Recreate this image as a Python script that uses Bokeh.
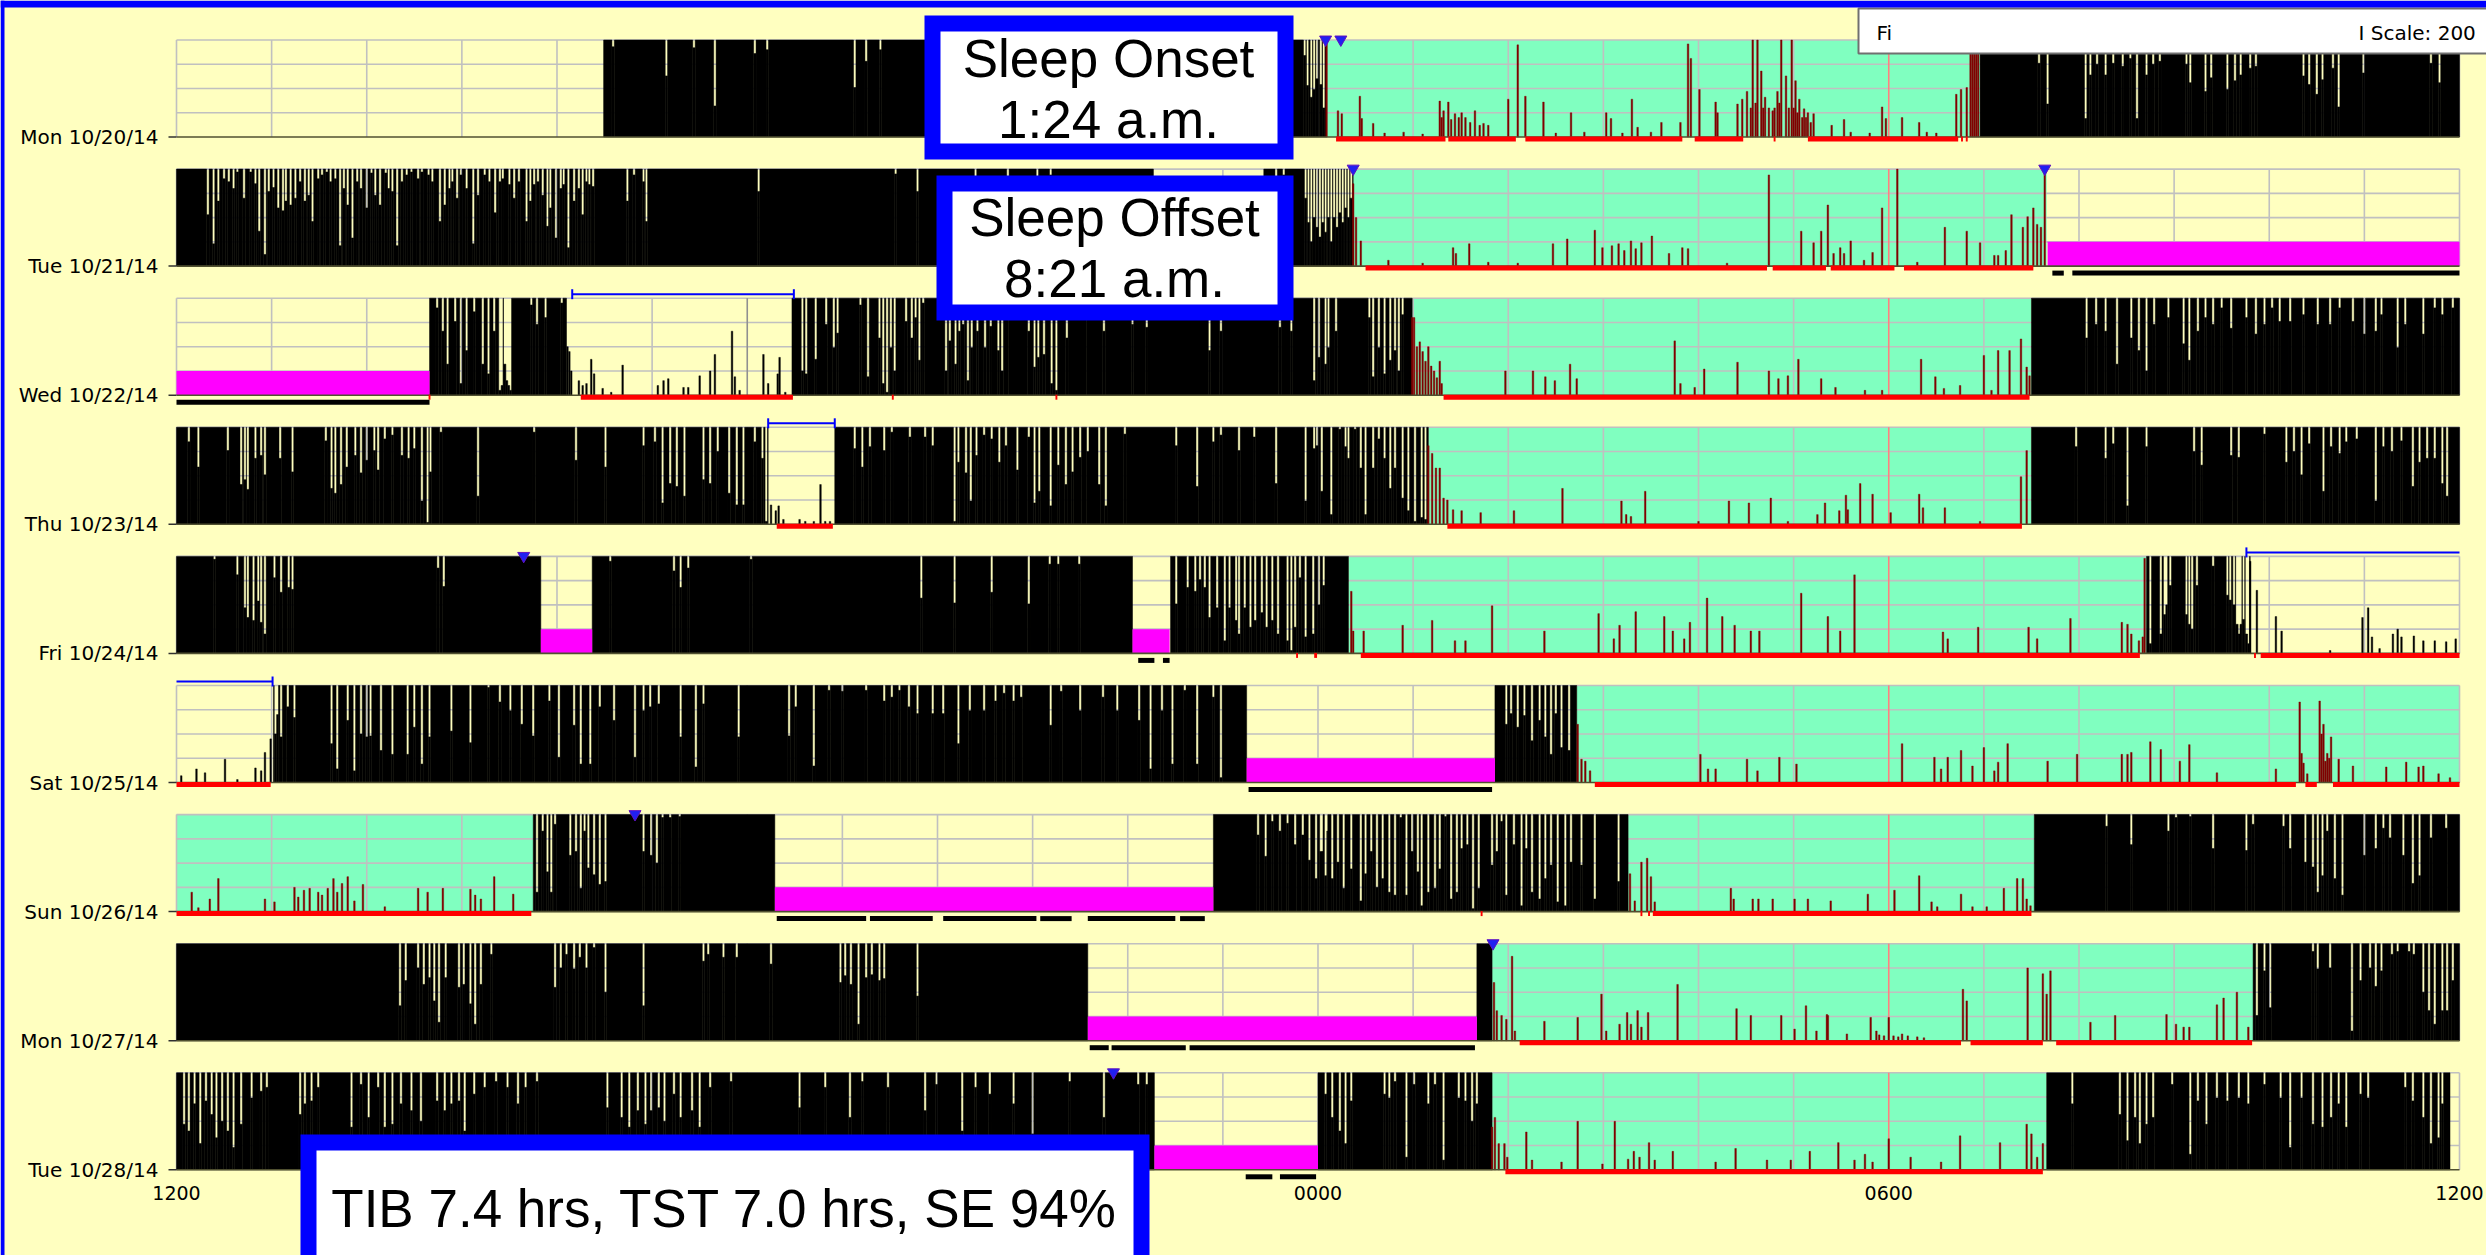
from bokeh.plotting import figure
from bokeh.models import Range1d
from bokeh.core.properties import value
from bokeh.embed import file_html
from bokeh.resources import INLINE

# ---------------- data (hours after 12:00 noon, fractions of the 200-count scale) -------------
ROW_LABELS = ["Mon 10/20/14", "Tue 10/21/14", "Wed 10/22/14", "Thu 10/23/14", "Fri 10/24/14",
              "Sat 10/25/14", "Sun 10/26/14", "Mon 10/27/14", "Tue 10/28/14"]
TIME_TICKS = [0, 12, 18, 24]
TIME_LABELS = ["1200", "0000", "0600", "1200"]

# wake activity blocks (saturated black) per row
ACTIVE = [
    [(4.49, 12.09), (18.96, 24.0)],
    [(0.0, 10.27), (11.43, 12.37)],
    [(2.66, 4.10), (6.47, 12.99), (19.50, 24.0)],
    [(0.0, 6.22), (6.92, 13.16), (19.50, 24.0)],
    [(0.0, 3.83), (4.37, 10.05), (10.45, 12.32), (20.71, 21.80)],
    [(1.02, 11.25), (13.86, 14.72)],
    [(3.75, 6.29), (10.90, 15.26), (19.53, 24.0)],
    [(0.0, 9.58), (13.67, 13.83), (21.83, 24.0)],
    [(0.0, 10.28), (12.0, 13.83), (19.66, 23.9)],
]
# rest intervals (mint)
REST = [
    [(12.09, 18.96)], [(12.37, 19.66)], [(12.99, 19.50)], [(13.16, 19.50)], [(12.32, 20.71)],
    [(14.72, 24.0)], [(0.0, 3.75), (15.26, 19.53)], [(13.83, 21.83)], [(13.83, 19.66)],
]
# excluded / off-wrist intervals (magenta)
OFFWRIST = [
    [], [(19.67, 24.0)], [(0.0, 2.66)], [], [(3.83, 4.37), (10.05, 10.44)],
    [(11.25, 13.86)], [(6.29, 10.90)], [(9.58, 13.67)], [(10.28, 12.0)],
]
# scored sleep (red line under the row)
SLEEP = [
    [(12.19, 13.34), (13.37, 14.08), (14.18, 15.83), (15.96, 16.47), (16.79, 16.81),
     (17.15, 18.73), (18.76, 18.78), (18.81, 18.83)],
    [(12.50, 16.72), (16.78, 17.34), (17.39, 18.06), (18.16, 19.52)],
    [(2.65, 2.67), (4.25, 6.48), (7.52, 7.54), (9.24, 9.26), (13.32, 19.48)],
    [(6.31, 6.90), (13.36, 19.40)],
    [(11.77, 11.79), (11.96, 11.99), (12.45, 20.64), (21.84, 21.86), (21.91, 24.0)],
    [(0.0, 0.99), (14.91, 22.28), (22.38, 22.50), (22.67, 24.0)],
    [(0.0, 3.73), (13.71, 13.73), (15.39, 15.41), (15.47, 15.49), (15.52, 19.50)],
    [(14.12, 18.76), (18.86, 19.62), (19.76, 21.82)],
    [(13.97, 19.62)],
]
# off-wrist marks (black line under the row)
UNDERLINE = [
    [], [(19.72, 19.84), (19.93, 24.0)], [(0.0, 2.66)], [], [(10.11, 10.28), (10.37, 10.44)],
    [(11.27, 13.83)],
    [(6.31, 7.25), (7.29, 7.95), (8.06, 9.04), (9.08, 9.41), (9.58, 10.50), (10.55, 10.81)],
    [(9.60, 9.80), (9.83, 10.61), (10.65, 13.65)],
    [(11.24, 11.52), (11.60, 11.98)],
]
# blue interval brackets above the row
BRACKETS = [[], [], [(4.16, 6.49)], [(6.22, 6.92)], [(21.76, 24.0)], [(0.0, 1.01)], [], [], []]
# event markers (blue triangles)
MARKERS = [[12.08, 12.24], [12.37, 19.64], [], [], [3.65], [], [4.82], [13.84], [9.85]]

# dips of the activity curve inside the black blocks: (hour, depth from top)
DIPS_0 = [(4.59, .07), (5.15, .37), (5.44, .08), (5.66, .68), (6.08, .14), (6.21, .10), (7.13, .49),
          (7.25, .22), (7.40, .10), (11.86, .16), (11.89, .47), (11.93, .59), (11.96, .51), (11.99, .40),
          (12.03, .46), (12.06, .70), (19.58, .24), (19.67, .66), (20.07, .81), (20.12, .36), (20.19, .25),
          (20.28, .36), (20.36, .24), (20.46, .27), (20.54, .19), (20.61, .81), (20.71, .36), (20.78, .25),
          (20.85, .22), (21.13, .25), (21.17, .44), (21.33, .53), (21.39, .39), (21.56, .51), (21.64, .42),
          (21.70, .36), (21.80, .29), (21.86, .27), (22.36, .37), (22.42, .46), (22.50, .56), (22.56, .41),
          (22.67, .29), (22.73, .69), (22.99, .34), (23.70, .24), (23.79, .44)]
DIPS_1 = [(0.33, .47), (0.39, .77), (0.44, .33), (0.50, .10), (0.55, .13), (0.60, .20), (0.64, .03),
          (0.71, .30), (0.78, .03), (0.83, .15), (0.87, .64), (0.93, .88), (0.97, .23), (1.02, .19),
          (1.07, .40), (1.12, .43), (1.15, .33), (1.20, .37), (1.25, .30), (1.30, .13), (1.35, .33),
          (1.39, .27), (1.43, .54), (1.49, .10), (1.53, .06), (1.58, .03), (1.62, .13), (1.67, .10),
          (1.72, .79), (1.76, .20), (1.80, .37), (1.85, .71), (1.90, .13), (1.94, .20), (2.00, .40),
          (2.05, .04), (2.09, .27), (2.14, .37), (2.20, .04), (2.23, .20), (2.27, .23), (2.32, .79),
          (2.37, .13), (2.42, .06), (2.47, .03), (2.54, .10), (2.58, .03), (2.65, .06), (2.69, .13),
          (2.77, .54), (2.82, .37), (2.87, .20), (2.90, .13), (2.95, .30), (2.99, .06), (3.05, .20),
          (3.12, .77), (3.17, .27), (3.24, .06), (3.29, .13), (3.35, .45), (3.40, .13), (3.43, .10),
          (3.50, .16), (3.55, .30), (3.60, .13), (3.68, .54), (3.72, .33), (3.76, .16), (3.80, .13),
          (3.85, .27), (3.90, .59), (3.93, .40), (3.99, .71), (4.04, .20), (4.07, .16), (4.12, .81),
          (4.18, .33), (4.23, .20), (4.27, .47), (4.31, .13), (4.34, .16), (4.38, .18), (4.74, .33),
          (4.81, .06), (4.91, .13), (4.94, .54), (6.12, .23), (7.56, .05), (7.79, .23), (8.40, .08),
          (8.74, .08), (9.05, .08), (9.19, .06), (11.56, .33), (11.64, .06), (11.87, .30), (11.90, .55),
          (11.93, .75), (11.96, .50), (11.99, .60), (12.02, .70), (12.05, .55), (12.08, .65), (12.11, .50),
          (12.14, .75), (12.17, .50), (12.20, .60), (12.23, .45), (12.26, .55), (12.29, .40), (12.32, .50),
          (12.35, .30)]
DIPS_2 = [(2.74, .10), (2.80, .34), (2.85, .68), (2.93, .24), (2.99, .88), (3.05, .54), (3.13, .14),
          (3.22, .68), (3.28, .78), (3.34, .34), (3.40, .95), (3.42, .90), (3.45, .68), (3.47, .85),
          (3.49, .90), (3.51, .95), (3.73, .07), (3.79, .27), (3.88, .20), (4.05, .05),
          (6.58, .75), (6.62, .78), (6.72, .63), (6.83, .27), (6.91, .51), (6.95, .36), (7.19, .07),
          (7.27, .81), (7.39, .41), (7.43, .88), (7.47, .97), (7.51, .51), (7.55, .75), (7.67, .24),
          (7.73, .41), (7.77, .20), (7.81, .64), (7.85, .05), (8.09, .75), (8.13, .44), (8.19, .68),
          (8.23, .34), (8.27, .27), (8.32, .85), (8.36, .51), (8.42, .34), (8.50, .51), (8.56, .29),
          (8.64, .54), (8.68, .75), (8.76, .14), (8.96, .34), (9.02, .71), (9.06, .61), (9.12, .58),
          (9.20, .88), (9.25, .95), (9.36, .41), (9.58, .17), (9.75, .34), (10.05, .27), (10.20, .30),
          (10.86, .54), (10.98, .34), (11.60, .30), (11.72, .34), (11.96, .85), (12.01, .61), (12.08, .68),
          (12.11, .51), (12.19, .34), (12.54, .20), (12.58, .81), (12.64, .51), (12.70, .78), (12.76, .64),
          (12.81, .54), (12.85, .75), (12.89, .17),
          (20.08, .41), (20.18, .27), (20.28, .34), (20.40, .68), (20.55, .41), (20.63, .54), (20.71, .75),
          (20.79, .27), (20.94, .20), (21.10, .47), (21.16, .64), (21.25, .34), (21.33, .20), (21.41, .27),
          (21.50, .10), (21.60, .31), (21.76, .20), (21.86, .37), (21.95, .27), (22.03, .10), (22.11, .24),
          (22.22, .24), (22.36, .17), (22.51, .27), (22.64, .27), (22.74, .10), (22.88, .24), (23.00, .37),
          (23.12, .34), (23.18, .17), (23.35, .51), (23.43, .27), (23.62, .37), (23.74, .10), (23.82, .17),
          (23.93, .10)]
DIPS_3 = [(0.13, .15), (0.23, .41), (0.54, .24), (0.68, .59), (0.72, .54), (0.75, .64), (0.83, .32),
          (0.89, .29), (0.93, .49), (1.09, .32), (1.22, .46), (1.57, .14), (1.63, .63), (1.67, .68),
          (1.73, .59), (1.79, .41), (1.88, .29), (1.94, .47), (2.00, .34), (2.08, .24), (2.12, .44),
          (2.19, .12), (2.27, .08), (2.37, .29), (2.44, .32), (2.50, .22), (2.58, .76), (2.64, .98),
          (2.67, .46), (2.78, .05), (3.17, .71), (3.76, .05), (4.20, .34), (4.51, .41), (4.91, .19),
          (5.03, .15), (5.11, .78), (5.19, .58), (5.26, .61), (5.34, .71), (5.54, .54), (5.61, .58),
          (5.69, .25), (5.81, .68), (5.89, .80), (5.96, .80), (6.08, .15), (6.16, .32), (6.20, .97),
          (7.13, .22), (7.21, .41), (7.29, .20), (7.44, .24), (7.52, .05), (7.71, .10), (7.87, .10),
          (7.95, .19), (8.18, .97), (8.22, .36), (8.30, .47), (8.35, .76), (8.41, .29), (8.49, .08),
          (8.57, .12), (8.65, .36), (8.72, .19), (8.84, .44), (8.96, .10), (9.02, .78), (9.07, .66),
          (9.19, .81), (9.27, .39), (9.35, .59), (9.42, .46), (9.50, .31), (9.58, .25), (9.70, .59),
          (9.77, .81), (9.97, .07), (10.51, .19), (10.73, .61), (10.90, .15), (10.98, .08), (11.17, .24),
          (11.33, .10), (11.56, .58), (11.87, .76), (11.96, .22), (11.99, .19), (12.04, .66), (12.14, .90),
          (12.23, .02), (12.29, .20), (12.32, .32), (12.39, .02), (12.45, .42), (12.50, .90), (12.58, .42),
          (12.64, .12), (12.70, .32), (12.76, .63), (12.81, .42), (12.89, .73), (12.95, .86), (13.02, .97),
          (13.09, .93), (13.13, .95),
          (19.97, .20), (20.28, .32), (20.36, .17), (20.51, .81), (20.71, .20), (21.21, .25), (21.29, .39),
          (21.60, .29), (21.68, .31), (21.95, .07), (22.18, .36), (22.26, .25), (22.34, .49), (22.42, .17),
          (22.57, .66), (22.65, .20), (22.74, .27), (22.81, .15), (22.92, .12), (23.12, .76), (23.20, .20),
          (23.29, .25), (23.39, .14), (23.51, .61), (23.58, .36), (23.66, .32), (23.74, .32), (23.82, .58),
          (23.87, .71)]
DIPS_4 = [(0.40, .03), (0.64, .19), (0.72, .53), (0.75, .63), (0.81, .66), (0.86, .46), (0.89, .68),
          (0.93, .80), (1.03, .22), (1.10, .37), (1.18, .32), (1.22, .34), (2.75, .12), (2.81, .31),
          (4.56, .05), (5.23, .15), (5.30, .32), (5.38, .12), (6.04, .03), (7.83, .43), (8.18, .48),
          (8.57, .37), (8.96, .49), (9.18, .08), (9.27, .08), (9.49, .08),
          (10.51, .49), (10.63, .32), (10.71, .36), (10.76, .24), (10.81, .32), (10.86, .63), (10.94, .53),
          (11.02, .87), (11.07, .53), (11.14, .66), (11.17, .80), (11.23, .53), (11.29, .73), (11.34, .66),
          (11.41, .58), (11.46, .73), (11.52, .66), (11.58, .80), (11.68, .87), (11.72, .97), (11.76, .73),
          (11.81, .22), (11.87, .83), (11.95, .80), (12.01, .50), (12.06, .30),
          (20.75, .90), (20.86, .80), (20.90, .60), (20.92, .50), (20.96, .30), (21.13, .60), (21.16, .70),
          (21.19, .75), (21.24, .30), (21.41, .10), (21.56, .40), (21.59, .45), (21.63, .50), (21.66, .70),
          (21.68, .80), (21.70, .70), (21.73, .65), (21.76, .80), (21.78, .90)]
DIPS_5 = [(1.04, .50), (1.06, .30), (1.10, .53), (1.17, .22), (1.24, .33), (1.63, .60), (1.69, .86),
          (1.80, .36), (1.87, .88), (1.94, .50), (2.00, .53), (2.04, .52), (2.15, .67), (2.27, .71),
          (2.43, .71), (2.50, .43), (2.58, .81), (2.66, .53), (2.89, .47), (3.09, .59), (3.28, .02),
          (3.40, .17), (3.51, .26), (3.63, .40), (3.75, .52), (3.92, .16), (4.02, .74), (4.18, .41),
          (4.25, .81), (4.35, .81), (4.45, .22), (4.60, .36), (4.82, .74), (4.91, .26), (4.98, .22),
          (5.07, .19), (5.30, .53), (5.46, .84), (5.54, .19), (5.91, .53), (6.44, .52), (6.51, .22),
          (6.70, .83), (6.86, .05), (7.00, .06), (7.25, .05), (7.44, .16), (7.52, .12), (7.60, .05),
          (7.70, .22), (7.79, .29), (7.95, .29), (8.06, .29), (8.22, .60), (8.34, .26), (8.49, .26),
          (8.61, .16), (8.70, .08), (8.80, .16), (8.88, .12), (9.19, .41), (9.30, .06), (9.50, .26),
          (9.74, .12), (9.89, .26), (10.12, .36), (10.24, .86), (10.36, .26), (10.47, .81), (10.60, .05),
          (10.73, .81), (10.90, .12), (10.98, .95),
          (13.98, .40), (14.03, .29), (14.10, .43), (14.17, .31), (14.25, .57), (14.33, .36), (14.39, .53),
          (14.45, .71), (14.50, .29), (14.56, .64), (14.64, .67)]
DIPS_6 = [(3.79, .80), (3.85, .17), (3.90, .59), (3.94, .80), (3.98, .10), (4.14, .42), (4.20, .38),
          (4.25, .76), (4.29, .17), (4.33, .55), (4.39, .62), (4.45, .72), (4.51, .69), (4.91, .38),
          (4.99, .42), (5.05, .50), (5.11, .03), (5.19, .03), (5.29, .02),
          (11.37, .21), (11.45, .43), (11.52, .07), (11.60, .17), (11.68, .09), (11.76, .31), (11.84, .21),
          (11.91, .47), (11.98, .66), (12.03, .38), (12.04, .38), (12.08, .63), (12.09, .17), (12.15, .66),
          (12.21, .49), (12.27, .76), (12.35, .56), (12.45, .89), (12.50, .61), (12.56, .38), (12.62, .75),
          (12.68, .66), (12.75, .80), (12.81, .83), (12.87, .03), (12.93, .83), (12.99, .38), (13.05, .59),
          (13.09, .94), (13.16, .80), (13.23, .76), (13.28, .56), (13.34, .02), (13.40, .87), (13.46, .80),
          (13.51, .35), (13.57, .31), (13.63, .97), (13.69, .76), (13.83, .52), (13.88, .38), (13.93, .07),
          (13.98, .83), (14.06, .31), (14.14, .94), (14.19, .35), (14.25, .80), (14.33, .87), (14.39, .66),
          (14.45, .52), (14.52, .90), (14.60, .94), (14.66, .49), (14.77, .52), (14.91, .87), (15.16, .69),
          (20.29, .12), (20.55, .31), (20.94, .17), (21.02, .03), (21.17, .02), (21.41, .35), (21.76, .37),
          (21.83, .10), (22.15, .12), (22.22, .35), (22.38, .49), (22.46, .54), (22.51, .80), (22.56, .63),
          (22.61, .17), (22.69, .66), (22.77, .83), (23.00, .42), (23.12, .35), (23.20, .14), (23.27, .24),
          (23.41, .42), (23.51, .71), (23.58, .63), (23.70, .24), (23.86, .14)]
DIPS_7 = [(2.35, .64), (2.41, .38), (2.54, .25), (2.60, .42), (2.66, .35), (2.71, .59), (2.76, .81),
          (2.83, .35), (2.97, .45), (3.02, .42), (3.09, .62), (3.14, .83), (3.20, .42), (3.31, .11),
          (3.98, .45), (4.04, .25), (4.10, .11), (4.18, .26), (4.24, .14), (4.31, .25), (4.39, .04),
          (4.51, .50), (4.91, .64), (5.54, .18), (5.59, .11), (5.75, .14), (5.89, .14), (6.25, .21),
          (6.98, .40), (7.03, .33), (7.09, .42), (7.17, .83), (7.25, .35), (7.31, .32), (7.39, .38),
          (7.44, .36), (7.79, .54),
          (21.87, .74), (21.95, .28), (22.01, .66), (22.46, .08), (22.51, .26), (22.64, .25), (22.87, .90),
          (22.96, .38), (23.06, .25), (23.12, .44), (23.18, .28), (23.29, .11), (23.35, .08), (23.47, .08),
          (23.52, .11), (23.62, .50), (23.68, .69), (23.74, .83), (23.82, .69), (23.87, .69), (23.93, .38)]
DIPS_8 = [(0.08, .53), (0.13, .60), (0.19, .32), (0.25, .73), (0.31, .29), (0.37, .43), (0.42, .67),
          (0.48, .50), (0.54, .60), (0.60, .77), (0.68, .53), (0.79, .26), (0.89, .19), (0.95, .15),
          (1.30, .43), (1.35, .32), (1.42, .29), (1.49, .15), (1.84, .56), (1.94, .12), (2.02, .46),
          (2.12, .15), (2.19, .56), (2.27, .53), (2.36, .32), (2.47, .39), (2.57, .50), (2.74, .29),
          (2.82, .39), (2.89, .32), (2.97, .29), (3.03, .60), (3.13, .22), (3.24, .15), (3.36, .09),
          (3.48, .15), (3.59, .32), (3.67, .15), (3.79, .09), (4.53, .36), (4.68, .46), (4.76, .56),
          (4.85, .39), (4.93, .53), (4.99, .39), (5.07, .36), (5.13, .50), (5.23, .22), (5.30, .46),
          (5.42, .39), (5.50, .56), (5.61, .15), (5.83, .09), (6.55, .36), (6.82, .15), (7.08, .46),
          (7.21, .09), (7.48, .15), (7.87, .39), (7.99, .12), (8.26, .60), (8.40, .15), (8.55, .22),
          (8.80, .32), (9.00, .63), (9.39, .09), (9.75, .46), (10.11, .12), (10.20, .12),
          (12.08, .22), (12.15, .46), (12.23, .60), (12.29, .73), (12.35, .29), (12.70, .22), (12.75, .26),
          (12.81, .09), (12.93, .87), (13.01, .12), (13.16, .32), (13.23, .12), (13.32, .90), (13.48, .26),
          (13.55, .29), (13.62, .50), (13.67, .32),
          (19.93, .32), (20.43, .43), (20.51, .70), (20.59, .46), (20.64, .73), (20.71, .53), (20.78, .46),
          (20.98, .12), (21.17, .84), (21.25, .29), (21.34, .53), (21.45, .26), (21.56, .29), (21.68, .26),
          (21.78, .32), (21.95, .12), (22.12, .26), (22.22, .77), (22.34, .26), (22.46, .53), (22.56, .56),
          (22.65, .46), (22.73, .32), (22.81, .56), (22.96, .22), (23.04, .26), (23.43, .15), (23.51, .29),
          (23.62, .46), (23.70, .73), (23.78, .67), (23.82, .32)]
DIPS = [DIPS_0, DIPS_1, DIPS_2, DIPS_3, DIPS_4, DIPS_5, DIPS_6, DIPS_7, DIPS_8]

# activity during rest intervals (dark red): (hour, height)
SPIKES_0 = [(12.09, .98), (12.21, .27), (12.25, .24), (12.44, .42), (12.46, .19), (12.58, .14), (12.70, .04),
            (12.90, .05), (13.10, .03), (13.28, .37), (13.30, .20), (13.32, .27), (13.37, .36), (13.40, .18),
            (13.44, .24), (13.48, .20), (13.51, .25), (13.55, .20), (13.60, .15), (13.65, .27), (13.70, .12),
            (13.74, .14), (13.79, .12), (14.00, .39), (14.10, .95), (14.18, .42), (14.37, .36), (14.50, .04),
            (14.66, .25), (14.80, .05), (15.03, .25), (15.08, .19), (15.20, .04), (15.30, .39), (15.36, .10),
            (15.50, .05), (15.61, .15), (15.81, .15), (15.89, .96), (15.92, .81), (16.01, .49), (16.18, .36),
            (16.20, .25), (16.41, .34), (16.46, .39), (16.51, .47), (16.55, .30), (16.57, 1.0), (16.60, .35),
            (16.62, 1.0), (16.66, .68), (16.68, .30), (16.70, .41), (16.74, .30), (16.78, .27), (16.80, .30),
            (16.83, .47), (16.85, .35), (16.87, 1.0), (16.92, .63), (16.95, .30), (16.98, 1.0), (17.00, .30),
            (17.02, .58), (17.04, .25), (17.06, .39), (17.09, .20), (17.11, .29), (17.13, .20), (17.15, .25),
            (17.18, .15), (17.21, .24), (17.40, .12), (17.53, .18), (17.60, .05), (17.80, .04), (17.93, .31),
            (17.97, .19), (18.14, .20), (18.32, .15), (18.40, .05), (18.50, .04), (18.71, .44), (18.76, .49),
            (18.82, .51), (18.86, 1.0), (18.88, 1.0), (18.90, 1.0), (18.92, 1.0), (18.94, 1.0)]
SPIKES_1 = [(12.37, .85), (12.40, .50), (12.45, .26), (12.74, .06), (13.10, .03), (13.42, .19), (13.45, .13),
            (13.59, .23), (13.79, .04), (14.10, .03), (14.47, .23), (14.62, .28), (14.91, .37), (14.99, .19),
            (15.09, .21), (15.16, .23), (15.22, .16), (15.29, .26), (15.34, .18), (15.40, .24), (15.51, .31),
            (15.69, .13), (15.83, .19), (15.89, .18), (16.30, .03), (16.74, .94), (17.08, .36), (17.21, .24),
            (17.29, .36), (17.36, .63), (17.42, .13), (17.49, .19), (17.53, .13), (17.60, .26), (17.74, .06),
            (17.83, .14), (17.93, .60), (18.09, 1.0), (18.30, .04), (18.59, .40), (18.82, .36), (18.96, .24),
            (19.11, .11), (19.15, .11), (19.23, .16), (19.29, .53), (19.41, .40), (19.46, .51), (19.52, .60),
            (19.56, .43), (19.60, .40), (19.64, 1.0)]
SPIKES_2 = [(12.99, .80), (13.01, .80), (13.04, .50), (13.07, .55), (13.10, .45), (13.13, .35), (13.16, .50),
            (13.19, .30), (13.22, .25), (13.25, .18), (13.28, .35), (13.30, .12), (13.97, .25), (14.26, .25),
            (14.39, .19), (14.49, .15), (14.65, .32), (14.72, .17), (15.75, .56), (15.81, .12), (15.96, .08),
            (16.06, .27), (16.41, .34), (16.74, .25), (16.84, .17), (16.94, .20), (17.05, .37), (17.29, .17),
            (17.44, .08), (17.75, .05), (17.93, .05), (18.34, .37), (18.49, .19), (18.58, .07), (18.75, .10),
            (19.00, .41), (19.08, .05), (19.15, .46), (19.27, .46), (19.39, .58), (19.45, .29), (19.48, .20)]
SPIKES_3 = [(13.16, .81), (13.20, .73), (13.24, .58), (13.28, .58), (13.32, .27), (13.36, .25), (13.42, .15),
            (13.51, .14), (13.71, .12), (14.06, .14), (14.57, .37), (15.19, .24), (15.24, .10), (15.29, .08),
            (15.44, .34), (16.00, .03), (16.32, .24), (16.53, .22), (16.76, .27), (16.94, .03), (17.25, .10),
            (17.33, .22), (17.48, .14), (17.55, .30), (17.57, .15), (17.70, .42), (17.83, .31), (18.02, .12),
            (18.32, .31), (18.36, .17), (18.59, .17), (18.96, .03), (19.39, .49), (19.45, .76)]
SPIKES_4 = [(12.35, .64), (12.37, .23), (12.48, .23), (12.89, .29), (13.20, .34), (13.44, .13), (13.55, .13),
            (13.83, .49), (14.38, .23), (14.95, .41), (15.11, .15), (15.17, .29), (15.34, .43), (15.64, .38),
            (15.73, .23), (15.85, .15), (15.91, .32), (16.09, .57), (16.25, .38), (16.38, .29), (16.55, .23),
            (16.64, .23), (17.08, .62), (17.36, .38), (17.49, .23), (17.64, .81), (18.57, .22), (18.62, .15),
            (18.94, .27), (19.47, .27), (19.56, .15), (19.91, .36), (20.45, .32), (20.51, .30), (20.55, .20),
            (20.63, .13), (20.67, .17), (20.69, .98)]
SPIKES_5 = [(14.73, .60), (14.77, .24), (14.81, .22), (14.86, .12), (16.02, .29), (16.10, .14), (16.18, .14),
            (16.51, .24), (16.62, .12), (16.85, .26), (17.03, .19), (18.14, .40), (18.48, .26), (18.55, .14),
            (18.62, .26), (18.76, .33), (18.88, .17), (19.00, .36), (19.11, .12), (19.15, .21), (19.25, .40),
            (19.67, .22), (19.98, .29), (20.45, .29), (20.51, .29), (20.55, .31), (20.75, .42), (20.86, .34),
            (21.06, .22), (21.16, .39), (21.45, .10), (22.07, .14), (22.32, .83), (22.34, .30), (22.36, .20),
            (22.40, .09), (22.53, .84), (22.55, .50), (22.57, .60), (22.59, .22), (22.61, .30), (22.63, .25),
            (22.65, .47), (22.73, .24), (22.88, .17), (23.23, .16), (23.44, .21), (23.57, .16), (23.62, .17),
            (23.78, .09), (23.90, .05)]
SPIKES_6 = [(0.16, .20), (0.23, .04), (0.35, .13), (0.44, .34), (0.93, .13), (1.03, .10), (1.24, .25),
            (1.28, .15), (1.34, .22), (1.40, .24), (1.49, .20), (1.53, .17), (1.59, .24), (1.65, .34),
            (1.69, .20), (1.74, .29), (1.80, .36), (1.87, .11), (1.96, .28), (2.19, .05), (2.54, .24),
            (2.64, .20), (2.80, .24), (3.09, .23), (3.14, .17), (3.20, .13), (3.34, .36), (3.54, .18),
            (15.28, .39), (15.33, .11), (15.40, .51), (15.46, .55), (15.50, .36), (15.54, .10), (16.34, .24),
            (16.37, .13), (16.57, .13), (16.63, .13), (16.78, .13), (17.01, .13), (17.15, .13), (17.39, .11),
            (17.78, .18), (18.06, .22), (18.32, .37), (18.45, .10), (18.51, .05), (18.76, .18), (18.88, .05),
            (19.03, .05), (19.21, .24), (19.35, .34), (19.41, .34), (19.45, .13), (19.49, .06)]
SPIKES_7 = [(13.85, .60), (13.88, .31), (13.93, .26), (13.98, .22), (14.04, .87), (14.07, .10), (14.38, .20),
            (14.73, .24), (14.98, .48), (15.03, .10), (15.17, .17), (15.25, .29), (15.29, .17), (15.36, .31),
            (15.40, .14), (15.47, .29), (15.78, .58), (16.40, .33), (16.55, .26), (16.87, .26), (17.01, .12),
            (17.13, .36), (17.24, .10), (17.35, .27), (17.36, .26), (17.56, .07), (17.81, .24), (17.87, .10),
            (17.90, .06), (17.95, .05), (18.00, .24), (18.05, .05), (18.10, .04), (18.14, .07), (18.20, .05),
            (18.30, .04), (18.37, .03), (18.78, .53), (18.82, .41), (19.46, .75), (19.62, .69), (19.66, .48),
            (19.70, .72), (20.12, .19), (20.38, .26), (20.92, .27), (21.02, .17), (21.10, .14), (21.16, .14),
            (21.45, .37), (21.52, .44), (21.66, .50), (21.78, .14)]
SPIKES_8 = [(13.83, .44), (13.86, .54), (13.90, .27), (13.96, .27), (13.99, .13), (14.19, .39), (14.25, .10),
            (14.56, .08), (14.73, .50), (14.99, .06), (15.12, .50), (15.26, .11), (15.32, .19), (15.38, .13),
            (15.48, .28), (15.54, .10), (15.73, .19), (16.18, .08), (16.39, .22), (16.72, .10), (16.97, .10),
            (17.17, .19), (17.47, .28), (17.64, .10), (17.75, .16), (17.83, .08), (18.00, .32), (18.23, .13),
            (18.55, .08), (18.75, .35), (19.17, .28), (19.45, .47), (19.50, .37), (19.56, .13), (19.62, .27)]
SPIKES = [SPIKES_0, SPIKES_1, SPIKES_2, SPIKES_3, SPIKES_4, SPIKES_5, SPIKES_6, SPIKES_7, SPIKES_8]

# low wake activity outside the black blocks: (hour, height)
LOWBARS_2 = [(4.11, .50), (4.13, .45), (4.15, .25), (4.23, .15), (4.27, .10), (4.31, .12), (4.36, .37),
             (4.39, .22), (4.48, .07), (4.57, .03), (4.69, .31), (5.06, .10), (5.12, .15), (5.17, .17),
             (5.33, .08), (5.38, .08), (5.50, .20), (5.61, .25), (5.66, .42), (5.84, .66), (5.87, .19),
             (5.92, .05), (6.17, .42), (6.22, .12), (6.32, .22), (6.34, .39), (6.40, .03)]
LOWBARS_3 = [(6.25, .20), (6.30, .14), (6.33, .19), (6.38, .05), (6.55, .05), (6.61, .03), (6.70, .03),
             (6.77, .41), (6.82, .03), (6.87, .03)]
LOWBARS_4 = [(21.80, .95), (21.87, .65), (22.07, .38), (22.13, .23), (22.64, .03), (22.98, .37), (23.04, .47),
             (23.08, .17), (23.16, .05), (23.30, .20), (23.35, .25), (23.39, .17), (23.52, .18), (23.62, .13),
             (23.74, .13), (23.86, .12), (23.96, .15)]
LOWBARS_5 = [(0.05, .07), (0.21, .14), (0.30, .10), (0.51, .24), (0.64, .03), (0.83, .15), (0.89, .12),
             (0.93, .31), (0.99, .45)]
LOWBARS = [[], [], LOWBARS_2, LOWBARS_3, LOWBARS_4, LOWBARS_5, [], [], []]

NOTE_ONSET = ["Sleep Onset", "1:24 a.m."]
NOTE_OFFSET = ["Sleep Offset", "8:21 a.m."]
NOTE_SUMMARY = "TIB 7.4 hrs, TST 7.0 hrs, SE 94%"

# ---------------- layout / style ----------------
W, H = 2486, 1255
X0, PXH = 176.0, 95.125            # pixel of 12:00 and pixels per hour
BASE0, PITCH, ROWH = 136.5, 129.1, 97.0
CREAM, MINT, DARKRED = "#FFFFC0", "#80FFC0", "#800000"
GRID = "#C0C0C0"
EPOCH = 1.0 / 60.0
DIP_W = 1.5 / 60.0


def hx(px):
    return (px - X0) / PXH


def base(r):
    return BASE0 + r * PITCH


def top(r):
    return base(r) - ROWH


p = figure(width=W, height=H, x_range=Range1d(hx(0), hx(W)), y_range=Range1d(H, 0),
           x_axis_type=None, y_axis_type=None, output_backend="svg", toolbar_location=None,
           min_border=0, background_fill_color=CREAM, border_fill_color=CREAM,
           outline_line_color=None)


def newq():
    return dict(left=[], right=[], top=[], bottom=[])


def addq(d, l, r, t, b):
    d["left"].append(l); d["right"].append(r); d["top"].append(t); d["bottom"].append(b)


# rest (mint) background
mint = newq()
for r, ivs in enumerate(REST):
    for a, b in ivs:
        addq(mint, a, b, top(r), base(r))
p.quad(**mint, fill_color=MINT, line_color=None)

# grid
gx0, gy0, gx1, gy1, gc = [], [], [], [], []
for r in range(len(ROW_LABELS)):
    for f in (0.25, 0.5, 0.75, 1.0):
        y = base(r) - f * ROWH
        gx0.append(0); gx1.append(24); gy0.append(y); gy1.append(y); gc.append(GRID)
    for hh in range(25):
        gx0.append(hh); gx1.append(hh); gy0.append(top(r)); gy1.append(base(r))
        gc.append("#FF8080" if hh == 18 else ("#909090" if hh == 6 else GRID))
p.segment(x0=gx0, y0=gy0, x1=gx1, y1=gy1, line_color=gc, line_width=1.6)

# black wake activity, built from blocks and dips
blk = newq()
for r in range(len(ROW_LABELS)):
    dips = sorted(DIPS[r])
    for a, b in ACTIVE[r]:
        cur = a
        for h, d in dips:
            if h < a or h > b:
                continue
            l = max(a, h - DIP_W / 2)
            rr = min(b, h + DIP_W / 2)
            if l > cur:
                addq(blk, cur, l, top(r), base(r))
            addq(blk, max(l, cur), rr, base(r) - (1 - d) * ROWH, base(r))
            cur = max(cur, rr)
        if cur < b:
            addq(blk, cur, b, top(r), base(r))
p.quad(**blk, fill_color="black", line_color="black", line_width=0.5)

# low black bars and dark red sleep activity
lx, lt, lb = [], [], []
for r, bars in enumerate(LOWBARS):
    for h, v in bars:
        lx.append(h); lt.append(base(r) - v * ROWH); lb.append(base(r))
p.vbar(x=lx, top=lt, bottom=lb, width=EPOCH, fill_color="black", line_color="black", line_width=0.4)
sx, st, sb = [], [], []
for r, bars in enumerate(SPIKES):
    for h, v in bars:
        sx.append(h); st.append(base(r) - v * ROWH); sb.append(base(r))
p.vbar(x=sx, top=st, bottom=sb, width=EPOCH, fill_color=DARKRED, line_color=DARKRED, line_width=0.4)

# off-wrist (magenta)
mag = newq()
for r, ivs in enumerate(OFFWRIST):
    for a, b in ivs:
        addq(mag, a, b, base(r) - 0.25 * ROWH, base(r))
p.quad(**mag, fill_color="#FF00FF", line_color=None)

# row baselines
p.segment(x0=[0] * 9, x1=[24] * 9, y0=[base(r) for r in range(9)], y1=[base(r) for r in range(9)],
          line_color="#505030", line_width=1.6)

# scored sleep (red) and off-wrist marks (black) below rows
red = newq()
for r, ivs in enumerate(SLEEP):
    for a, b in ivs:
        addq(red, a, b, base(r) - 0.5, base(r) + 4.5)
p.quad(**red, fill_color="#FF0000", line_color=None)
und = newq()
for r, ivs in enumerate(UNDERLINE):
    for a, b in ivs:
        addq(und, a, b, base(r) + 4.5, base(r) + 9.5)
p.quad(**und, fill_color="black", line_color=None)

# brackets
bx0, bx1, by0, by1 = [], [], [], []
for r, ivs in enumerate(BRACKETS):
    for a, b in ivs:
        bx0.append(a); bx1.append(b); by0.append(top(r) - 4); by1.append(top(r) - 4)
        for e in (a, b):
            if 0 < e < 24:
                bx0.append(e); bx1.append(e); by0.append(top(r) - 9); by1.append(top(r) + 1)
p.segment(x0=bx0, x1=bx1, y0=by0, y1=by1, line_color="#0000FF", line_width=2)

# markers
mx, my = [], []
for r, ms in enumerate(MARKERS):
    for h in ms:
        mx.append(h); my.append(top(r) - 0.5)
p.scatter(x=mx, y=my, marker="inverted_triangle", size=12, fill_color="#2020F0", line_color="#6010C0")

# date labels with tick marks
p.segment(x0=[hx(168)] * 9, x1=[0] * 9, y0=[base(r) for r in range(9)], y1=[base(r) for r in range(9)],
          line_color="#303030", line_width=1.5)
p.text(x=[hx(158)] * 9, y=[base(r) for r in range(9)], text=ROW_LABELS,
       text_font=value("DejaVu Sans"), text_font_size="20px", text_align="right",
       text_baseline="middle", text_color="black")
# time labels
p.text(x=TIME_TICKS, y=[1192] * len(TIME_TICKS), text=TIME_LABELS, text_font=value("DejaVu Sans"),
       text_font_size="19px", text_align="center", text_baseline="middle", text_color="black")

# status box at top right
p.quad(left=[hx(1858)], right=[hx(2490)], top=[8], bottom=[53], fill_color="white",
       line_color="#707070", line_width=2)
p.text(x=[hx(1876), hx(2358)], y=[32, 32], text=["Fi", "I Scale:  200"], text_font=value("DejaVu Sans"),
       text_font_size="20px", text_align="left", text_baseline="middle", text_color="black")

# annotation boxes
def note_box(l, r, t, b):
    p.quad(left=[hx(l)], right=[hx(r)], top=[t], bottom=[b], fill_color="#0000FF", line_color=None)
    p.quad(left=[hx(l + 16)], right=[hx(r - 16)], top=[t + 16], bottom=[b - 16], fill_color="white",
           line_color=None)


note_box(924, 1293, 15, 159)
note_box(936, 1293, 175, 320)
note_box(300, 1149, 1134, 1290)
p.text(x=[hx(1108)] * 2 + [hx(1114)] * 2, y=[58, 119, 217, 278], text=NOTE_ONSET + NOTE_OFFSET,
       text_font=value("Liberation Sans"), text_font_size="53px", text_align="center",
       text_baseline="middle", text_color="black")
p.text(x=[hx(724)], y=[1208], text=[NOTE_SUMMARY], text_font=value("Liberation Sans"),
       text_font_size="53px", text_align="center", text_baseline="middle", text_color="black")

# outer blue frame pieces
p.quad(left=[hx(0)], right=[hx(W)], top=[0], bottom=[7], fill_color="#0000FF", line_color=None)
p.quad(left=[hx(0)], right=[hx(4)], top=[0], bottom=[H], fill_color="#0000FF", line_color=None)

open("out.html", "w").write(file_html(p, INLINE))
